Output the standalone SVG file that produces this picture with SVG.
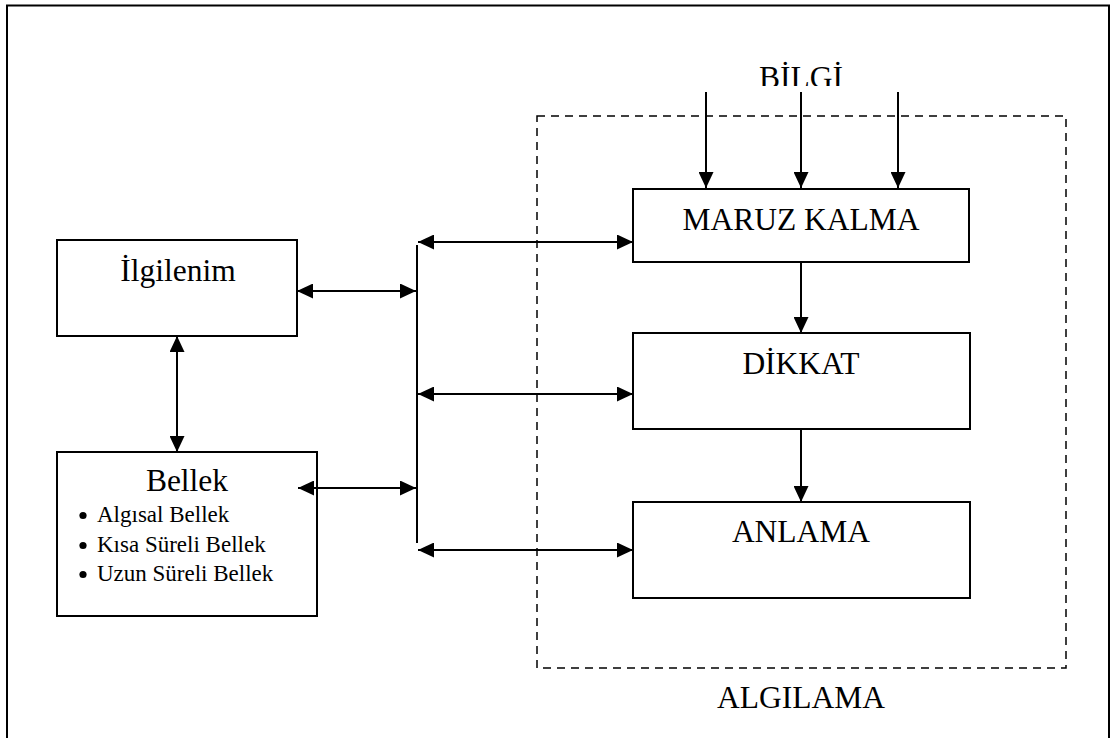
<svg xmlns="http://www.w3.org/2000/svg" width="1111" height="738" viewBox="0 0 1111 738">
<style>
.box{fill:#fff;stroke:#000;stroke-width:2}
.t{font-family:"Liberation Serif","Times New Roman",serif;font-size:31.5px;fill:#000;text-anchor:middle}
.s{font-family:"Liberation Serif","Times New Roman",serif;font-size:23px;fill:#000}
.ln{stroke:#000;stroke-width:2;fill:none}
.a1{marker-end:url(#ah)}
.a2{marker-start:url(#ah);marker-end:url(#ah)}
</style>
<defs>
<marker id="ah" markerUnits="userSpaceOnUse" markerWidth="16" markerHeight="15" refX="16" refY="7.5" orient="auto-start-reverse" viewBox="0 0 16 15">
<path d="M0,0 L16,7.5 L0,15 z" fill="#000"/>
</marker>
<clipPath id="clipB"><rect x="700" y="40" width="200" height="46"/></clipPath>
</defs>
<rect x="0" y="0" width="1111" height="738" fill="#fff"/>
<rect x="7" y="5.5" width="1102" height="740" fill="none" stroke="#000" stroke-width="2"/>
<g id="algilama">
<rect x="537" y="116" width="529" height="552" fill="none" stroke="#000" stroke-width="1.5" stroke-dasharray="8,6"/>
<text class="t" x="801" y="708">ALGILAMA</text>
</g>
<g id="bilgi">
<text class="t" x="801" y="87.5" clip-path="url(#clipB)">BİLGİ</text>
</g>
<g id="maruz">
<rect class="box" x="633" y="189" width="336" height="73"/>
<text class="t" x="801" y="230">MARUZ KALMA</text>
</g>
<g id="dikkat">
<rect class="box" x="633" y="333" width="337" height="96"/>
<text class="t" x="801" y="374">DİKKAT</text>
</g>
<g id="anlama">
<rect class="box" x="633" y="502" width="337" height="96"/>
<text class="t" x="801" y="542">ANLAMA</text>
</g>
<g id="ilgilenim">
<rect class="box" x="57" y="240" width="240" height="96"/>
<text class="t" x="178" y="281">İlgilenim</text>
</g>
<g id="bellek">
<rect class="box" x="57" y="452" width="260" height="164"/>
<text class="t" x="187" y="491">Bellek</text>
<circle cx="83" cy="515.5" r="3.6"/>
<text class="s" x="97" y="522">Algısal Bellek</text>
<circle cx="83" cy="545.5" r="3.6"/>
<text class="s" x="97" y="552">Kısa Süreli Bellek</text>
<circle cx="83" cy="574.5" r="3.6"/>
<text class="s" x="97" y="581">Uzun Süreli Bellek</text>
</g>
<g id="connectors">
<line class="ln a1" x1="706" y1="92" x2="706" y2="188"/>
<line class="ln a1" x1="801" y1="92" x2="801" y2="188"/>
<line class="ln a1" x1="898" y1="92" x2="898" y2="188"/>
<line class="ln a1" x1="801" y1="262" x2="801" y2="333"/>
<line class="ln a1" x1="801" y1="429" x2="801" y2="502"/>
<line class="ln" x1="417" y1="245" x2="417" y2="543"/>
<line class="ln a2" x1="418" y1="242" x2="633" y2="242"/>
<line class="ln a2" x1="418" y1="394" x2="633" y2="394"/>
<line class="ln a2" x1="418" y1="550" x2="633" y2="550"/>
<line class="ln a2" x1="297" y1="291" x2="416" y2="291"/>
<line class="ln a2" x1="298" y1="488" x2="416" y2="488"/>
<line class="ln a2" x1="177" y1="336" x2="177" y2="452"/>
</g>
</svg>
